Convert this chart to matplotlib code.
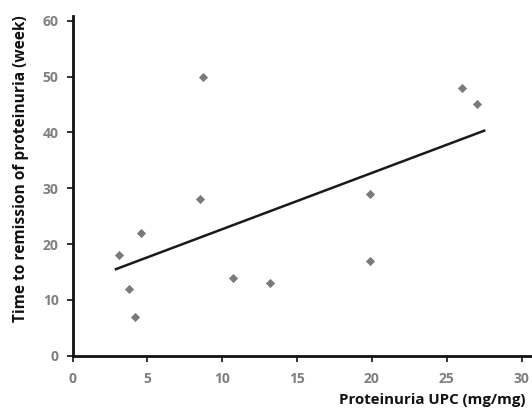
import numpy as np
import matplotlib.pyplot as plt

# values
upc = [3.1, 3.8, 4.2, 4.6, 8.5, 8.7, 10.7, 13.2, 19.9, 19.9, 26.0, 27.0]
weeks = [18, 12, 7, 22, 28, 50, 14, 13, 29, 17, 48, 45]
trend_x = [2.9, 27.5]
trend_y = [15.5, 40.3]

xticks = [0, 5, 10, 15, 20, 25, 30]
yticks = [0, 10, 20, 30, 40, 50, 60]

plt.rcParams['font.family'] = ['Open Sans', 'DejaVu Sans']

fig = plt.figure(figsize=(5.32, 4.15), dpi=100)
ax = fig.add_axes([0.1363, 0.1429, 0.861, 0.8185])

ax.scatter(upc, weeks, marker='D', s=22, color='#7a7a7a', linewidths=0, zorder=3)
ax.plot(trend_x, trend_y, color='#1a1a1a', lw=1.8, zorder=2)

ax.set_xlim(0, 30.6)
ax.set_ylim(0, 60.84)
ax.set_xticks(xticks)
ax.set_yticks(yticks)

for side in ['top', 'right']:
    ax.spines[side].set_visible(False)
for side in ['left', 'bottom']:
    ax.spines[side].set_linewidth(2)
    ax.spines[side].set_color('#111111')

ax.tick_params(axis='both', direction='out', length=4, width=1.2, color='#111111',
               labelsize=10, labelcolor='#7f7f7f')
for lab in ax.get_xticklabels() + ax.get_yticklabels():
    lab.set_fontweight('bold')
ax.tick_params(axis='x', pad=8)
ax.tick_params(axis='y', pad=6)

ax.set_xlabel('Proteinuria UPC (mg/mg)', fontsize=10.8, fontweight='bold', color='#111111')
ax.xaxis.set_label_coords(0.99, -0.11)
ax.xaxis.label.set_horizontalalignment('right')
ax.set_ylabel('Time to remission of proteinuria (week)', fontsize=11.2, fontweight='bold',
              color='#111111')
ax.yaxis.set_label_coords(-0.094, 0.55)

fig.savefig('out.png', dpi=100)
